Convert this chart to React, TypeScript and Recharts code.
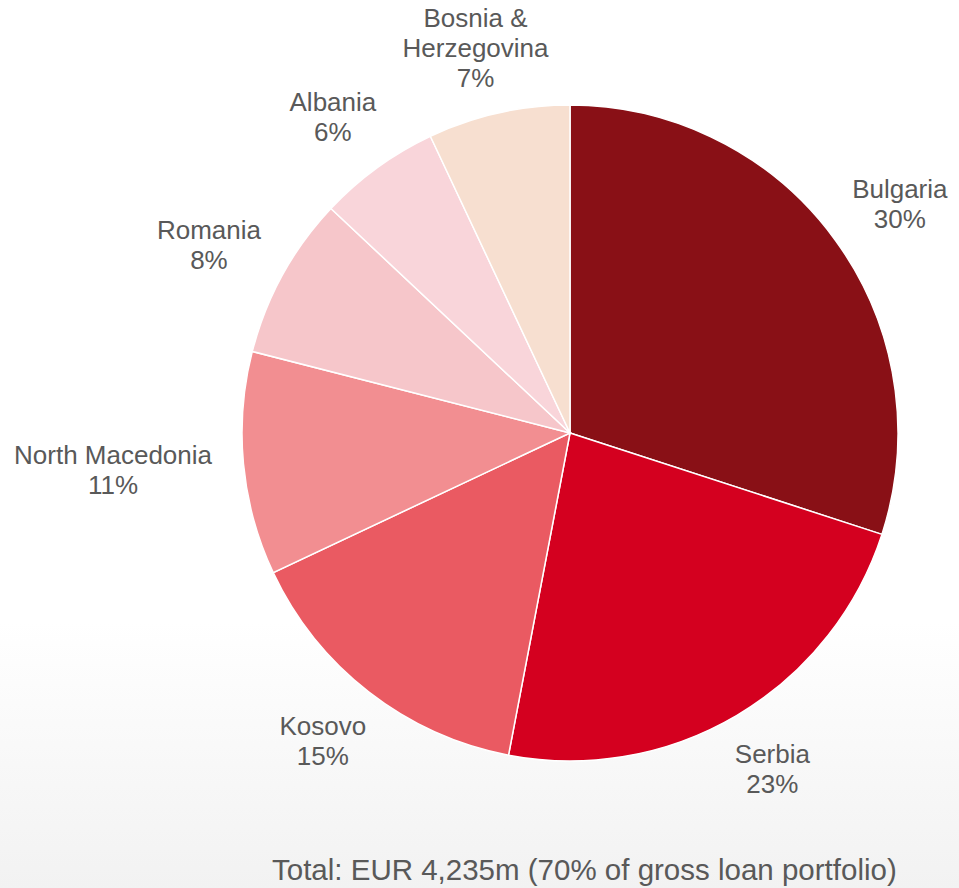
import React from 'react'
import { PieChart, Pie, Cell } from 'recharts'

// Loan portfolio split by country, clockwise from 12 o'clock
const countries = ['Bulgaria', 'Serbia', 'Kosovo', 'North Macedonia', 'Romania', 'Albania', 'Bosnia & Herzegovina']
const shares = [30, 23, 15, 11, 8, 6, 7]
const labelLines = [['Bulgaria'], ['Serbia'], ['Kosovo'], ['North Macedonia'], ['Romania'], ['Albania'], ['Bosnia &', 'Herzegovina']]
const colors = ['#891016', '#D4001F', '#EA5A62', '#F28E91', '#F6C6CA', '#F9D5DA', '#F7DFD0']
const totalNote = 'Total: EUR 4,235m (70% of gross loan portfolio)'

const data = countries.map((name, i) => ({ name, value: shares[i], lines: labelLines[i] }))

const FONT = '"Liberation Sans", Arial, sans-serif'
const LABEL_SIZE = 26
const LINE_H = 30
const GAP = 32

let ctx: CanvasRenderingContext2D | null = null
function textWidth(s: string) {
  if (!ctx) ctx = document.createElement('canvas').getContext('2d')
  if (!ctx) return s.length * LABEL_SIZE * 0.5
  ctx.font = `${LABEL_SIZE}px ${FONT}`
  return ctx.measureText(s).width
}

function renderLabel(props: any) {
  const { cx, cy, midAngle, outerRadius, payload, value } = props
  const lines: string[] = [...(payload?.lines ?? [props.name]), `${value}%`]
  const rad = (midAngle * Math.PI) / 180
  const cos = Math.cos(rad)
  const sin = Math.sin(rad)
  const hw = Math.max(...lines.map(textWidth)) / 2
  const hh = (lines.length * LINE_H) / 2
  const x = cx + (outerRadius + GAP) * cos + hw * cos
  // keep the block inside the chart area, like the original does at the top
  const y = Math.max(cy - (outerRadius + GAP) * sin - hh * sin, hh + 3)
  return (
    <text x={x} y={y} fill="#595959" fontSize={LABEL_SIZE} fontFamily={FONT} textAnchor="middle">
      {lines.map((l, i) => (
        <tspan key={i} x={x} y={y - hh + LINE_H * (i + 0.5)} dominantBaseline="central">{l}</tspan>
      ))}
    </text>
  )
}

export default function App() {
  return (
    <div
      style={{
        position: 'absolute', left: 0, top: 0, width: 959, height: 888,
        background: 'linear-gradient(to bottom, #ffffff 0%, #ffffff 70%, #f2f2f2 100%)',
        fontFamily: FONT,
      }}
    >
      <PieChart width={959} height={888} margin={{ top: 0, right: 0, bottom: 0, left: 0 }}>
        <Pie
          data={data}
          dataKey="value"
          nameKey="name"
          cx={570}
          cy={433}
          outerRadius={328}
          startAngle={90}
          endAngle={-270}
          stroke="#ffffff"
          strokeWidth={1.5}
          label={renderLabel}
          labelLine={false}
          isAnimationActive={false}
        >
          {data.map((d, i) => <Cell key={d.name} fill={colors[i]} />)}
        </Pie>
      </PieChart>
      <div style={{ position: 'absolute', left: 272, top: 852, fontSize: 29.5, color: '#595959', lineHeight: '36px', whiteSpace: 'nowrap' }}>
        {totalNote}
      </div>
    </div>
  )
}
